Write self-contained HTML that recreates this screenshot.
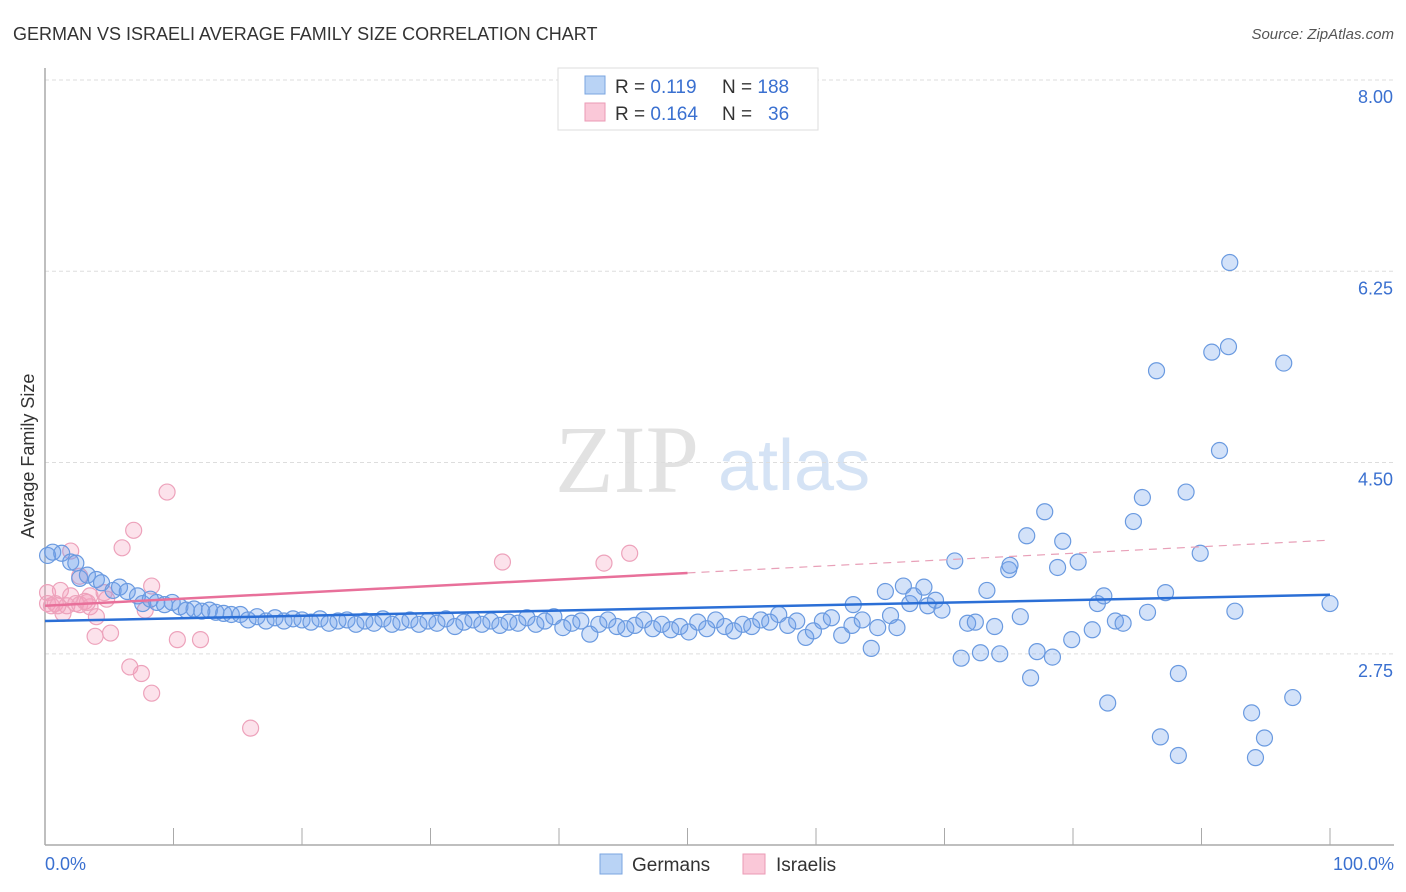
<!DOCTYPE html>
<html><head><meta charset="utf-8">
<style>
body{margin:0;background:#fff;font-family:"Liberation Sans",sans-serif;}
svg{display:block}
</style></head>
<body>
<svg id="chart" width="1406" height="892" xmlns="http://www.w3.org/2000/svg">
<text x="13" y="40" font-size="18" fill="#333">GERMAN VS ISRAELI AVERAGE FAMILY SIZE CORRELATION CHART</text>
<text x="1394" y="39" font-size="15" fill="#555" font-style="italic" text-anchor="end">Source: ZipAtlas.com</text>
<g>
<text x="555" y="492" font-size="96" font-family="Liberation Serif,serif" fill="#e2e2e2">ZIP</text>
<text x="718" y="490" font-size="72" fill="#d5e3f5">atlas</text>
</g>
<g id="grid"></g>
<g id="axes"></g>
<g id="pts"></g>
<g id="trends"></g>
<text transform="translate(34,456) rotate(-90)" font-size="18" fill="#333" text-anchor="middle">Average Family Size</text>
<text x="45" y="870" font-size="18" fill="#3a70d0">0.0%</text>
<text x="1394" y="870" font-size="18" fill="#3a70d0" text-anchor="end">100.0%</text>
<g>
<rect x="558" y="68" width="260" height="62" fill="#fff" stroke="#ddd"/>
<rect x="585" y="76" width="20" height="18" fill="#b9d3f5" stroke="#7aa5e0"/>
<rect x="585" y="103" width="20" height="18" fill="#fac8d8" stroke="#eb9ab5"/>
<text x="615" y="93" font-size="19" fill="#333">R = <tspan fill="#3a70d0">0.119</tspan></text>
<text x="722" y="93" font-size="19" fill="#333">N = <tspan fill="#3a70d0">188</tspan></text>
<text x="615" y="120" font-size="19" fill="#333">R = <tspan fill="#3a70d0">0.164</tspan></text>
<text x="722" y="120" font-size="19" fill="#333">N = <tspan fill="#3a70d0" x="768">36</tspan></text>
</g>
<g>
<rect x="600" y="854" width="22" height="20" fill="#b9d3f5" stroke="#7aa5e0"/>
<text x="632" y="871" font-size="19" fill="#333">Germans</text></g>
<g>
<rect x="743" y="854" width="22" height="20" fill="#fac8d8" stroke="#eb9ab5"/>
<text x="776" y="871" font-size="19" fill="#333">Israelis</text></g>
</svg>
<script>
const yTicks=[8.00,6.25,4.50,2.75];
const yTickLabels=["8.00","6.25","4.50","2.75"];
const xTicks=[0,10,20,30,40,50,60,70,80,90,100];
const germanX=[
0.2,0.6,1.3,2.0,2.4,2.7,3.3,4.0,4.4,5.3,
5.8,6.4,7.2,7.6,8.2,8.7,9.3,9.9,10.5,11,
11.6,12.2,12.8,13.3,13.9,14.5,15.2,
15.8,16.5,17.2,17.9,18.6,19.3,20.0,20.7,21.4,22.1,
22.8,23.5,24.2,24.9,25.6,26.3,27.0,27.7,28.4,29.1,
29.8,30.5,31.2,31.9,32.6,33.3,34.0,34.7,35.4,36.1,
36.8,37.5,38.2,38.9,39.6,40.3,41.0,41.7,42.4,43.1,
43.8,44.5,45.2,45.9,46.6,47.3,48.0,48.7,49.4,50.1,
50.8,51.5,52.2,52.9,53.6,54.3,55.0,55.7,56.4,57.1,
57.8,58.5,59.2,59.8,60.5,61.2,62.0,
62.8,62.9,63.6,64.3,64.8,65.4,65.8,66.3,66.8,67.3,
67.6,68.4,68.7,69.3,69.8,70.8,71.3,71.8,72.4,72.8,
73.3,73.9,74.3,75.0,75.1,75.9,76.4,76.7,77.2,77.8,
78.4,78.8,79.2,79.9,80.4,81.5,81.9,82.4,82.7,83.3,
83.9,84.7,85.4,85.8,86.5,86.8,87.2,88.2,88.2,88.8,
89.9,90.8,91.4,92.1,92.2,92.6,93.9,94.2,94.9,96.4,
97.1,100];
const germanY=[
3.65,3.68,3.67,3.59,3.58,3.44,3.47,3.43,3.40,3.33,
3.36,3.32,3.28,3.21,3.25,3.22,3.20,3.22,3.18,3.15,
3.16,3.14,3.15,3.13,3.12,3.11,3.11,
3.06,3.09,3.05,3.08,3.05,3.07,3.06,3.04,3.07,3.03,
3.05,3.06,3.02,3.05,3.03,3.07,3.02,3.04,3.06,3.02,
3.05,3.03,3.07,3.00,3.04,3.06,3.02,3.05,3.01,3.04,
3.03,3.08,3.02,3.05,3.09,2.99,3.03,3.05,2.93,3.02,
3.06,3.00,2.98,3.01,3.06,2.98,3.02,2.97,3.00,2.95,
3.04,2.98,3.06,3.00,2.96,3.02,3.00,3.06,3.04,3.11,
3.01,3.05,2.90,2.96,3.05,3.08,2.92,
3.01,3.20,3.06,2.80,2.99,3.32,3.10,2.99,3.37,3.21,
3.28,3.36,3.19,3.24,3.15,3.60,2.71,3.03,3.04,2.76,
3.33,3.00,2.75,3.52,3.56,3.09,3.83,2.53,2.77,4.05,
2.72,3.54,3.78,2.88,3.59,2.97,3.21,3.28,2.30,3.05,
3.03,3.96,4.18,3.13,5.34,1.99,3.31,2.57,1.82,4.23,
3.67,5.51,4.61,5.56,6.33,3.14,2.21,1.80,1.98,5.41,
2.35,3.21];
const israelX=[0.2,0.2,0.5,0.8,1.2,1.4,1.7,2.0,2.0,2.4,2.7,2.7,3.1,3.5,3.5,3.9,4.0,4.6,4.8,5.1,6.0,6.6,6.9,7.5,7.8,8.3,8.3,9.5,10.3,12.1,16.0,35.6,43.5,45.5,1.0,3.3];
const israelY=[3.31,3.21,3.19,3.21,3.33,3.12,3.19,3.69,3.28,3.21,3.46,3.20,3.23,3.28,3.18,2.91,3.09,3.31,3.25,2.94,3.72,2.63,3.88,2.57,3.15,3.37,2.39,4.23,2.88,2.88,2.07,3.59,3.58,3.67,3.19,3.22];
const germanTrend=[3.05,3.29];
const israelTrend=[3.19,3.79];
const NS="http://www.w3.org/2000/svg";
const X0=45,X1=1330,Y8=80,PX=109.3;
const sx=v=>X0+(X1-X0)*v/100;
const sy=v=>Y8+(8-v)*PX;
function mk(tag,attrs,parent){const e=document.createElementNS(NS,tag);for(const k in attrs)e.setAttribute(k,attrs[k]);document.getElementById(parent).appendChild(e);return e;}
yTicks.forEach((t,i)=>{
 const l=mk('line',{x1:X0,x2:1394,y1:sy(t),y2:sy(t),stroke:'#ddd','stroke-dasharray':'4,3'},'grid');
 
 
 const tx=mk('text',{x:1393,y:sy(t)+23,'font-size':18,fill:'#3a70d0','text-anchor':'end'},'grid');
 tx.textContent=yTickLabels[i];
 
 
});
const ya=mk('line',{x1:X0,x2:X0,y1:68,y2:845,stroke:'#aaa','stroke-width':1.5},'axes');


const xa=mk('line',{x1:X0,x2:1394,y1:845,y2:845,stroke:'#aaa','stroke-width':1.5},'axes');


xTicks.forEach(t=>{
 const l=mk('line',{x1:sx(t),x2:sx(t),y1:828,y2:845,stroke:'#aaa'},'axes');
 
 
});
israelX.forEach((x,i)=>{
 const c=mk('circle',{cx:sx(x),cy:sy(israelY[i]),r:8,fill:'rgba(245,160,190,0.3)',stroke:'#eda2bb','stroke-width':1.2},'pts');
 
 
});
germanX.forEach((x,i)=>{
 const c=mk('circle',{cx:sx(x),cy:sy(germanY[i]),r:8,fill:'rgba(110,160,235,0.3)',stroke:'#6a9ae0','stroke-width':1.2},'pts');
 
 
});
const gt=mk('line',{x1:sx(0),y1:sy(germanTrend[0]),x2:sx(100),y2:sy(germanTrend[1]),stroke:'#2b6fd6','stroke-width':2.5},'trends');


const im=israelTrend[0]+(israelTrend[1]-israelTrend[0])*0.5;
const it=mk('line',{x1:sx(0),y1:sy(israelTrend[0]),x2:sx(50),y2:sy(im),stroke:'#e8709a','stroke-width':2.5},'trends');


const id=mk('line',{x1:sx(50),y1:sy(im),x2:sx(100),y2:sy(israelTrend[1]),stroke:'#e8a0b8','stroke-width':1.2,'stroke-dasharray':'8,6'},'trends');


</script>
</body></html>
